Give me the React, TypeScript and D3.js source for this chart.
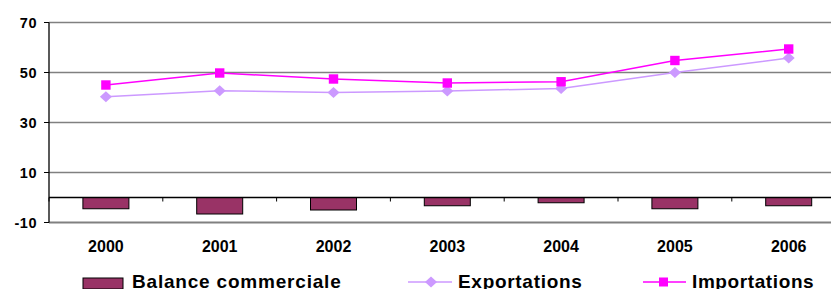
import React from "react";
import * as d3 from "d3";

// Données
const years = ["2000", "2001", "2002", "2003", "2004", "2005", "2006"];
const exportations = [40.3, 42.7, 42.0, 42.6, 43.6, 50.0, 55.8];
const importations = [45.0, 49.8, 47.4, 45.8, 46.3, 54.8, 59.4];
const balance = [-4.5, -6.6, -5.0, -3.3, -2.1, -4.5, -3.3];
const yTicks = [-10, 10, 30, 50, 70];

const width = 831;
const height = 289;
const left = 49;
const step = 113.8;
const top = 22.5;
const bottom = 222.5;

const font = "'Liberation Sans', Arial, sans-serif";
// losange un peu plus large que haut
const diamond = "M-6,0L0,-5.6L6,0L0,5.6Z";

const App = () => {
  const x = d3
    .scaleBand()
    .domain(years)
    .range([left, left + step * years.length])
    .paddingInner(0)
    .paddingOuter(0);
  const y = d3.scaleLinear().domain([-10, 70]).range([bottom, top]);

  const cx = (d: string) => (x(d) as number) + x.bandwidth() / 2;
  const barW = 46;

  const line = d3
    .line<number>()
    .x((_, i) => cx(years[i]))
    .y((d) => y(d));

  return (
    <svg
      width={width}
      height={height}
      style={{ position: "absolute", left: 0, top: 0, background: "#fff" }}
      fontFamily={font}
    >
      {/* grille */}
      {yTicks.map((t) => (
        <line
          key={t}
          x1={left}
          x2={width}
          y1={y(t)}
          y2={y(t)}
          stroke="#808080"
          strokeWidth={t === -10 ? 2 : 1.3}
        />
      ))}
      {/* axe Y */}
      <line x1={left} x2={left} y1={top} y2={bottom} stroke="#000" strokeWidth={1.3} />
      {yTicks.map((t) => (
        <g key={"yt" + t}>
          <line x1={left - 5} x2={left} y1={y(t)} y2={y(t)} stroke="#000" strokeWidth={1} />
          <text
            x={37}
            y={y(t) + 5}
            textAnchor="end"
            fontSize={14.5}
            fontWeight="bold"
            letterSpacing={0.5}
          >
            {t}
          </text>
        </g>
      ))}

      {/* barres */}
      {balance.map((v, i) => (
        <rect
          key={"b" + i}
          x={cx(years[i]) - barW / 2}
          y={y(0)}
          width={barW}
          height={y(v) - y(0)}
          fill="#993366"
          stroke="#000"
          strokeWidth={1}
        />
      ))}

      {/* axe X au niveau de zéro */}
      <line x1={left} x2={width} y1={y(0)} y2={y(0)} stroke="#000" strokeWidth={1.3} />
      {years.map((d) => (
        <line
          key={"xt" + d}
          x1={x(d) as number}
          x2={x(d) as number}
          y1={y(0)}
          y2={y(0) + 4}
          stroke="#000"
        />
      ))}
      {years.map((d) => (
        <text
          key={"xl" + d}
          x={cx(d)}
          y={251.5}
          textAnchor="middle"
          fontSize={16}
          fontWeight="bold"
        >
          {d}
        </text>
      ))}

      {/* Exportations */}
      <path d={line(exportations) || ""} fill="none" stroke="#CC99FF" strokeWidth={1.5} />
      {exportations.map((v, i) => (
        <path
          key={"e" + i}
          d={diamond}
          transform={`translate(${cx(years[i])},${y(v)})`}
          fill="#CC99FF"
        />
      ))}

      {/* Importations */}
      <path d={line(importations) || ""} fill="none" stroke="#FF00FF" strokeWidth={1.5} />
      {importations.map((v, i) => (
        <rect
          key={"m" + i}
          x={cx(years[i]) - 4.7}
          y={y(v) - 4.7}
          width={9.4}
          height={9.4}
          fill="#FF00FF"
        />
      ))}

      {/* légende */}
      <rect x={83} y={278} width={40} height={11} fill="#993366" stroke="#000" strokeWidth={1} />
      <text x={132} y={287.5} fontSize={19} fontWeight="bold" letterSpacing={0.8}>
        Balance commerciale
      </text>

      <line x1={408} x2={452} y1={282} y2={282} stroke="#CC99FF" strokeWidth={1.5} />
      <path d={diamond} transform="translate(431,282)" fill="#CC99FF" />
      <text x={458} y={287.5} fontSize={19} fontWeight="bold" letterSpacing={0.7}>
        Exportations
      </text>

      <line x1={643} x2={686} y1={282} y2={282} stroke="#FF00FF" strokeWidth={1.5} />
      <rect x={659} y={277.5} width={9} height={9} fill="#FF00FF" />
      <text x={692} y={287.5} fontSize={19} fontWeight="bold" letterSpacing={0.6}>
        Importations
      </text>
    </svg>
  );
};

export default App;
